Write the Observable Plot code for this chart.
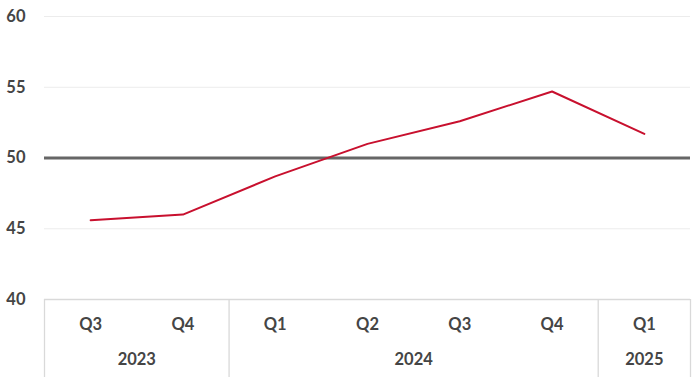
<!DOCTYPE html>
<html>
<head>
<meta charset="utf-8">
<script src="https://cdn.jsdelivr.net/npm/d3@7"></script>
<script src="https://cdn.jsdelivr.net/npm/@observablehq/plot@0.6"></script>
<style>
  html, body { margin: 0; padding: 0; background: #fff; }
  #chart { width: 700px; height: 377px; }
</style>
</head>
<body>
<div id="chart"></div>
<script>
const quarters = ["Q3", "Q4", "Q1", "Q2", "Q3", "Q4", "Q1"];
const years = ["2023", "2023", "2024", "2024", "2024", "2024", "2025"];
const values = [45.6, 46.0, 48.7, 51.0, 52.6, 54.7, 51.7];
const yTicks = [40, 45, 50, 55, 60];
const reference = 50;

const data = values.map((v, i) => ({ i, value: v, quarter: quarters[i], year: years[i] }));

// year groups from the years list
const groups = [];
years.forEach((y, i) => {
  const last = groups[groups.length - 1];
  if (last && last.year === y) last.end = i;
  else groups.push({ year: y, start: i, end: i });
});
const boundaries = [groups[0].start - 0.5, ...groups.map(g => g.end + 0.5)];
const yMin = yTicks[0];
const yAxisBottom = yMin - 5.55; // extends the category box below the plot frame

const font = "Lato, 'Open Sans', sans-serif";
const textGray = "#454545";

const chart = Plot.plot({
  width: 700,
  height: 377,
  marginLeft: 44,
  marginRight: 10,
  marginTop: 16,
  marginBottom: 78,
  style: { fontFamily: font, background: "#fff", overflow: "visible" },
  x: { domain: [-0.5, values.length - 0.5], axis: null },
  y: { domain: [yTicks[0], yTicks[yTicks.length - 1]], ticks: yTicks, tickSize: 0, tickPadding: 19, label: null },
  marks: [
    Plot.ruleY(yTicks.filter(t => t !== yMin && t !== reference), { stroke: "#ececec", strokeWidth: 1 }),
    Plot.ruleY([yMin], { stroke: "#d9d9d9", strokeWidth: 1.3 }),
    Plot.ruleX(boundaries, { x: d => d, y1: yMin, y2: yAxisBottom, stroke: "#d9d9d9", strokeWidth: 1.3, clip: false }),
    Plot.ruleY([reference], { stroke: "#666666", strokeWidth: 3 }),
    Plot.line(data, { x: "i", y: "value", stroke: "#c8102e", strokeWidth: 2 }),
    Plot.text(data, { x: "i", y: yMin, text: "quarter", dy: 25, fontSize: 16.5, fontWeight: "bold", fill: textGray, clip: false }),
    Plot.text(groups, { x: g => (g.start + g.end) / 2, y: yMin, text: "year", dy: 60, fontSize: 16.5, fontWeight: "bold", fill: textGray, clip: false }),
    Plot.axisY({ ticks: yTicks, tickSize: 0, tickPadding: 19, fontSize: 16.5, fontWeight: "bold", fill: textGray, label: null })
  ]
});
document.getElementById("chart").appendChild(chart);
</script>
</body>
</html>
